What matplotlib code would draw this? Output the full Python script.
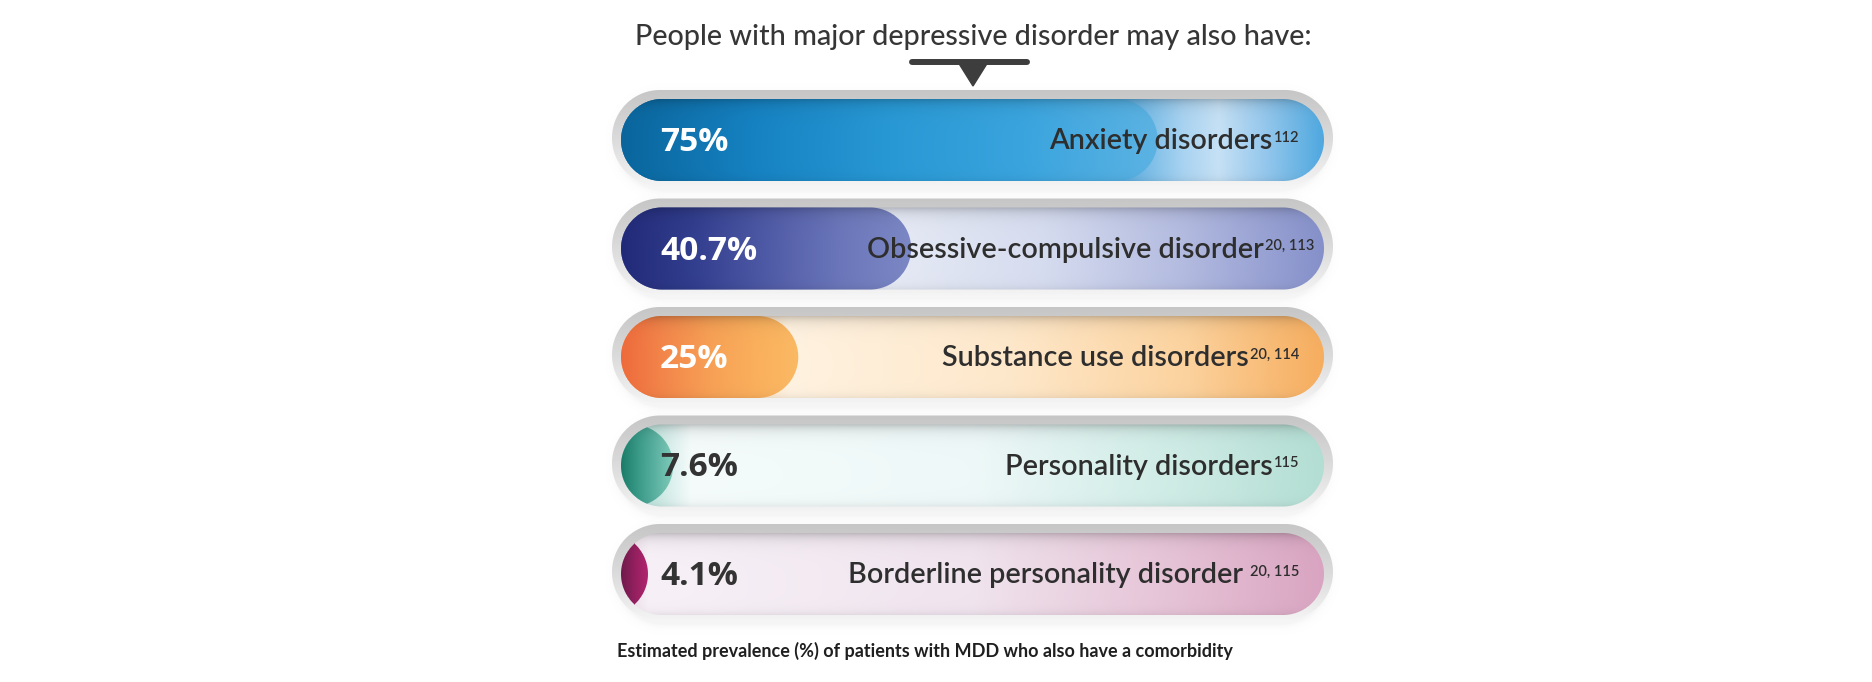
import numpy as np
import matplotlib
matplotlib.use("Agg")
import matplotlib.pyplot as plt
from matplotlib.colors import to_rgb
from matplotlib.patches import Polygon

# data
title = "People with major depressive disorder may also have:"
footnote = "Estimated prevalence (%) of patients with MDD who also have a comorbidity"
categories = ["Anxiety disorders", "Obsessive-compulsive disorder", "Substance use disorders",
              "Personality disorders", "Borderline personality disorder"]
refs = ["112", "20, 113", "20, 114", "115", "20, 115"]
values = [75, 40.7, 25, 7.6, 4.1]
value_labels = ["75%", "40.7%", "25%", "7.6%", "4.1%"]

# colours (fill left -> right, track stops as fraction of track width)
fill_colors = [
    ["#0a659c", "#1682c2", "#2898d4", "#3aa4de", "#5cb3e3"],
    ["#212a78", "#323e8e", "#4f5aa6", "#6a76b9", "#7c88c5"],
    ["#ee6a3c", "#f3874b", "#f7a055", "#faaf5c", "#fbb964"],
    ["#1a7c68", "#3a9a88", "#5cb2a2", "#7fcab9"],
    ["#6e1a4b", "#92205f", "#b3246f"],
]
track_colors = [
    [(0.0, "#1a7bb5"), (0.72, "#5fb0e2"), (0.8, "#a9d3f1"), (0.85, "#c6e1f5"), (0.92, "#92c6ec"), (1.0, "#4ea8df")],
    [(0.0, "#5a64ac"), (0.38, "#e6eaf5"), (0.6, "#d6dcef"), (0.8, "#b3bbe0"), (1.0, "#8590ca")],
    [(0.0, "#f8b060"), (0.24, "#fff2e0"), (0.55, "#fee8cb"), (0.8, "#fcd39f"), (1.0, "#f6ad5e")],
    [(0.0, "#9ad4c8"), (0.1, "#f5fbfb"), (0.5, "#eef8f8"), (0.8, "#cdebe4"), (1.0, "#b3ded3")],
    [(0.0, "#e8d4e2"), (0.04, "#f7f1f7"), (0.5, "#f0e4ee"), (0.8, "#e5c1d5"), (1.0, "#d9a4c1")],
]
pct_colors = ["white", "white", "white", "#333333", "#333333"]
ring_stops = [(0.0, "#c6c6c6"), (0.45, "#d8d8d8"), (1.0, "#f4f4f4")]

# layout (pixels)
W, H = 1872, 682
row_y0, row_gap = 140, 108.5
in_x0, in_x1, in_r = 621, 1324, 41
out_x0, out_x1 = 612, 1333
x_zero, px_per_pct = 618.5, 7.19
label_right = [1299, 1314, 1299, 1299, 1299]
sup_gap = [1, 1, 1, 1, 7]

fig = plt.figure(figsize=(W / 100, H / 100), dpi=100)
ax = fig.add_axes([0, 0, 1, 1])


def capsule_sdf(X, Y, x0, x1, yc, r):
    cx = np.clip(X, x0 + r, x1 - r)
    return np.hypot(X - cx, Y - yc) - r


def ray_sdf(X, Y, xe, yc, r):
    cx = np.minimum(X, xe - r)
    return np.hypot(X - cx, Y - yc) - r


def interp_colors(stops, t):
    pos = np.array([p for p, _ in stops])
    cols = np.array([to_rgb(c) for _, c in stops])
    return np.stack([np.interp(t, pos, cols[:, k]) for k in range(3)], axis=-1)


def even(colors):
    return list(zip(np.linspace(0, 1, len(colors)), colors))


def put(rgb, alpha, x0, x1, y0, y1, z):
    img = np.dstack([np.clip(rgb, 0, 1), np.clip(alpha, 0, 1)])
    ax.imshow(img, extent=(x0, x1, y1, y0), origin="upper", interpolation="nearest", zorder=z)


for i, v in enumerate(values):
    yc = row_y0 + i * row_gap
    bx0, bx1 = 600, 1346
    by0, by1 = int(yc - 58), int(yc + 62)
    X, Y = np.meshgrid(np.arange(bx0, bx1) + 0.5, np.arange(by0, by1) + 0.5)

    # soft shadow + grey ring
    oy0, oy1 = yc - 50, yc + 46
    oyc, orad = (oy0 + oy1) / 2, (oy1 - oy0) / 2
    d_sh = capsule_sdf(X, Y - 4, out_x0 + 4, out_x1 - 4, oyc, orad)
    a_sh = 0.10 * np.exp(-np.maximum(d_sh, 0) / 3.5)
    put(np.full(X.shape + (3,), 0.6), a_sh, bx0, bx1, by0, by1, 1)
    d_out = capsule_sdf(X, Y, out_x0, out_x1, oyc, orad)
    rgb = interp_colors(ring_stops, (Y - oy0) / (oy1 - oy0))
    put(rgb, 0.5 - d_out, bx0, bx1, by0, by1, 2)

    # inner track
    itop, ibot = yc - in_r, yc + in_r
    shade = 1 - 0.22 * np.exp(-(Y - itop) / 6) - 0.07 * np.exp(-(ibot - Y) / 4)
    d_in = capsule_sdf(X, Y, in_x0, in_x1, yc, in_r)
    rgb = interp_colors(track_colors[i], (X - in_x0) / (in_x1 - in_x0)) * shade[..., None]
    put(rgb, 0.5 - d_in, bx0, bx1, by0, by1, 3)

    # value fill
    xe = x_zero + v * px_per_pct
    d_fill = np.maximum(d_in, ray_sdf(X, Y, xe, yc, in_r))
    rgb = interp_colors(even(fill_colors[i]), (X - in_x0) / (xe - in_x0)) * shade[..., None]
    put(rgb, 0.5 - d_fill, bx0, bx1, by0, by1, 4)

# pointer under title
ax.plot([912, 1027], [62, 62], color="#3d3d3d", lw=4.3, solid_capstyle="round", zorder=5)
ax.add_patch(Polygon([(958, 62), (988, 62), (973, 86)], closed=True, color="#3d3d3d", zorder=5))

# texts
t_title = ax.text(973, 45, title, ha="center", va="baseline", fontsize=22, family="Lato",
                  fontweight="medium", color="#363636", zorder=6)
t_foot = ax.text(617, 657, footnote, ha="left", va="baseline", fontsize=12, family="Lato",
                 fontweight="bold", color="#1f1f1f", zorder=6)

pct_texts, cat_texts, sup_texts = [], [], []
for i in range(len(values)):
    yc = row_y0 + i * row_gap
    pct_texts.append(ax.text(660, yc + 11, value_labels[i], ha="left", va="baseline", fontsize=22,
                             family="Open Sans", fontweight="bold", color=pct_colors[i], zorder=6))
    sup_texts.append(ax.text(label_right[i], yc + 1.5, refs[i], ha="right", va="baseline", fontsize=10.5,
                             family="Lato", fontweight="semibold", color="#2e2e2e", zorder=6))
    cat_texts.append(ax.text(1280, yc + 9.5, categories[i], ha="right", va="baseline", fontsize=18,
                             family="Lato", fontweight="semibold", color="#2e2e2e", zorder=6))

ax.set_xlim(0, W)
ax.set_ylim(H, 0)
ax.set_aspect("auto")
ax.axis("off")

r = fig.canvas.get_renderer()


def fit(texts, ref, target):
    w = ref.get_window_extent(r).width
    for t in texts:
        t.set_fontsize(t.get_fontsize() * target / w)


fit([t_title], t_title, 675)
fit([t_foot], t_foot, 612)
fit(pct_texts, pct_texts[1], 97)
fit(cat_texts, cat_texts[0], 223)

for i in range(len(values)):
    left = sup_texts[i].get_window_extent(r).x0
    cat_texts[i].set_x(left - sup_gap[i])

fig.savefig("out.png", dpi=100, facecolor="white")
